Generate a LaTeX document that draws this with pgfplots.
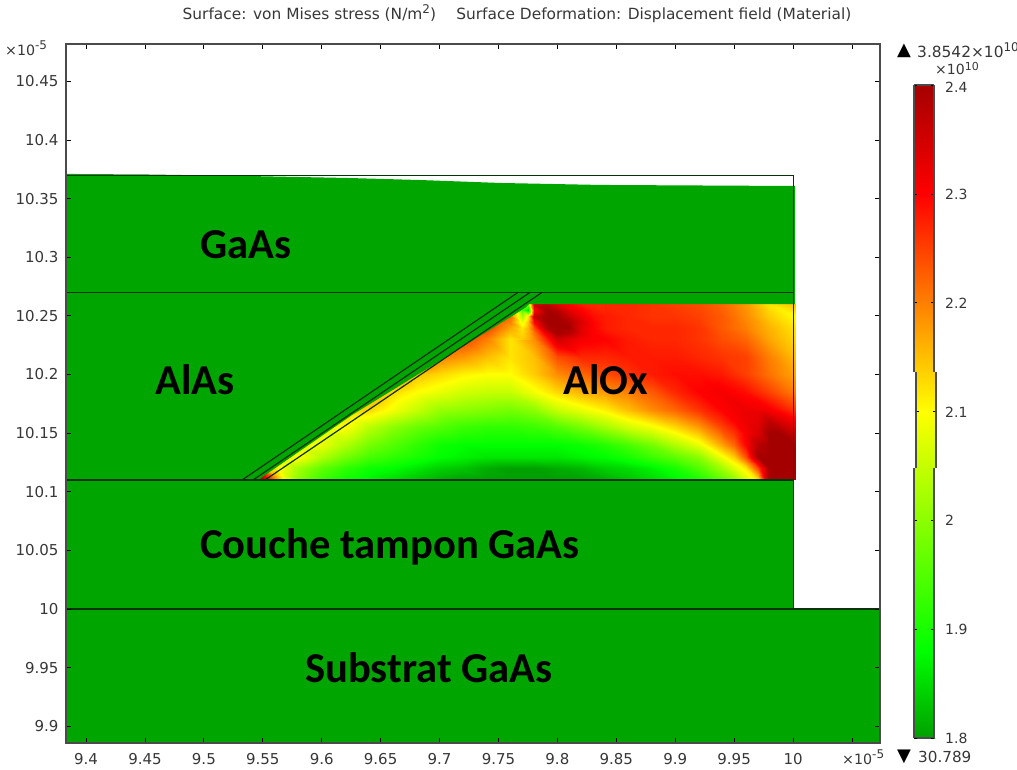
\documentclass[border=0pt]{standalone}
\usepackage{fontspec}
\setmainfont{DejaVu Sans}
\newfontfamily\bigfont[BoldFont=Carlito Bold]{Carlito}
\usepackage{pgfplots}
\pgfplotsset{compat=1.18}
\definecolor{cgreen}{RGB}{0,165,0}
\definecolor{cframe}{RGB}{75,75,75}
\definecolor{ctext}{RGB}{55,55,55}
\definecolor{cline}{RGB}{10,50,10}
\newcommand{\sups}[1]{\raisebox{6pt}{\fontsize{12}{12}\selectfont #1}}
\pgfplotsset{
  colormap={stress}{rgb255(0)=(0,160,0); rgb255(8)=(0,255,0); rgb255(30)=(255,255,0); rgb255(50)=(255,0,0); rgb255(60)=(165,0,0)},
  cbar/.style={
    scale only axis, width=20pt, xmin=0, xmax=1, xtick=\empty, ymin=1.8, ymax=2.4,
    ytick={1.8,1.9,2,2.1,2.2,2.3,2.4}, yticklabels=\empty, tickwidth=3pt, major tick style={black,line width=0.6pt},
    colormap name=stress, point meta min=1.8, point meta max=2.4,
    separate axis lines, x axis line style={draw=none}, y axis line style={draw=cframe,line width=1.2pt}, clip=false, axis on top},
}
\begin{document}
\begin{tikzpicture}[x=1pt,y=1pt]
\path[use as bounding box] (0,0) rectangle (1017pt,769pt);
\begin{axis}[
  at={(66pt,26pt)}, anchor=south west, scale only axis, width=814pt, height=699pt,
  xmin=9.383, xmax=10.0738, ymin=9.8857, ymax=10.4818,
  xtick={9.4,9.45,9.5,9.55,9.6,9.65,9.7,9.75,9.8,9.85,9.9,9.95,10,10.05},
  xticklabels={9.4,9.45,9.5,9.55,9.6,9.65,9.7,9.75,9.8,9.85,9.9,9.95,10,},
  ytick={9.9,9.95,10,10.05,10.1,10.15,10.2,10.25,10.3,10.35,10.4,10.45},
  yticklabels={9.9,9.95,10,10.05,10.1,10.15,10.2,10.25,10.3,10.35,10.4,10.45},
  tick align=inside, tickwidth=5pt, major tick style={black,line width=0.8pt},
  ticklabel style={font=\fontsize{15}{15}\selectfont, text=ctext},
  xticklabel style={yshift=-7pt}, yticklabel style={xshift=-4pt},
  axis line style={cframe,line width=1.3pt}, axis on top,
  colormap name=stress, point meta min=1.8, point meta max=2.4,
]
\addplot[fill=cgreen,draw=none] coordinates {(9.383,9.8857)(10.0738,9.8857)(10.0738,10)(10,10)(10,10.11)(9.383,10.11)} --cycle;
\addplot[surf, shader=interp, mesh/cols=24, point meta=explicit] table[row sep=\\, x=x, y=y, meta=z] {x y z\\
9.54 10.11 2.40\\9.56 10.11 2.20\\9.58 10.11 2.00\\9.60 10.11 1.93\\9.62 10.11 1.89\\9.64 10.11 1.87\\9.66 10.11 1.85\\9.68 10.11 1.83\\9.70 10.11 1.81\\9.72 10.11 1.80\\9.74 10.11 1.80\\9.76 10.11 1.80\\9.78 10.11 1.80\\9.80 10.11 1.80\\9.82 10.11 1.80\\9.84 10.11 1.81\\9.86 10.11 1.83\\9.88 10.11 1.85\\9.90 10.11 1.87\\9.92 10.11 1.90\\9.94 10.11 1.96\\9.96 10.11 2.06\\9.98 10.11 2.40\\10.002 10.11 2.40\\
9.54 10.12 2.15\\9.56 10.12 2.12\\9.58 10.12 2.02\\9.60 10.12 1.96\\9.62 10.12 1.92\\9.64 10.12 1.89\\9.66 10.12 1.88\\9.68 10.12 1.86\\9.70 10.12 1.84\\9.72 10.12 1.83\\9.74 10.12 1.81\\9.76 10.12 1.80\\9.78 10.12 1.80\\9.80 10.12 1.81\\9.82 10.12 1.82\\9.84 10.12 1.84\\9.86 10.12 1.85\\9.88 10.12 1.87\\9.90 10.12 1.90\\9.92 10.12 1.95\\9.94 10.12 2.02\\9.96 10.12 2.12\\9.98 10.12 2.40\\10.002 10.12 2.40\\
9.54 10.13 2.12\\9.56 10.13 2.12\\9.58 10.13 2.10\\9.60 10.13 2.03\\9.62 10.13 1.98\\9.64 10.13 1.94\\9.66 10.13 1.92\\9.68 10.13 1.90\\9.70 10.13 1.88\\9.72 10.13 1.87\\9.74 10.13 1.86\\9.76 10.13 1.86\\9.78 10.13 1.86\\9.80 10.13 1.86\\9.82 10.13 1.87\\9.84 10.13 1.88\\9.86 10.13 1.90\\9.88 10.13 1.93\\9.90 10.13 1.96\\9.92 10.13 2.00\\9.94 10.13 2.09\\9.96 10.13 2.24\\9.98 10.13 2.40\\10.002 10.13 2.40\\
9.54 10.14 2.10\\9.56 10.14 2.10\\9.58 10.14 2.10\\9.60 10.14 2.08\\9.62 10.14 2.03\\9.64 10.14 1.98\\9.66 10.14 1.95\\9.68 10.14 1.92\\9.70 10.14 1.89\\9.72 10.14 1.88\\9.74 10.14 1.88\\9.76 10.14 1.88\\9.78 10.14 1.88\\9.80 10.14 1.88\\9.82 10.14 1.89\\9.84 10.14 1.91\\9.86 10.14 1.94\\9.88 10.14 1.98\\9.90 10.14 2.03\\9.92 10.14 2.08\\9.94 10.14 2.17\\9.96 10.14 2.30\\9.98 10.14 2.40\\10.002 10.14 2.40\\
9.54 10.155 2.10\\9.56 10.155 2.10\\9.58 10.155 2.10\\9.60 10.155 2.10\\9.62 10.155 2.10\\9.64 10.155 2.04\\9.66 10.155 2.00\\9.68 10.155 1.97\\9.70 10.155 1.95\\9.72 10.155 1.93\\9.74 10.155 1.92\\9.76 10.155 1.92\\9.78 10.155 1.93\\9.80 10.155 1.95\\9.82 10.155 1.98\\9.84 10.155 2.02\\9.86 10.155 2.06\\9.88 10.155 2.09\\9.90 10.155 2.13\\9.92 10.155 2.18\\9.94 10.155 2.25\\9.96 10.155 2.31\\9.98 10.155 2.38\\10.002 10.155 2.34\\
9.54 10.17 2.15\\9.56 10.17 2.15\\9.58 10.17 2.15\\9.60 10.17 2.15\\9.62 10.17 2.15\\9.64 10.17 2.13\\9.66 10.17 2.09\\9.68 10.17 2.05\\9.70 10.17 2.01\\9.72 10.17 2.00\\9.74 10.17 1.99\\9.76 10.17 1.98\\9.78 10.17 2.00\\9.80 10.17 2.05\\9.82 10.17 2.08\\9.84 10.17 2.11\\9.86 10.17 2.15\\9.88 10.17 2.19\\9.90 10.17 2.22\\9.92 10.17 2.26\\9.94 10.17 2.30\\9.96 10.17 2.32\\9.98 10.17 2.31\\10.002 10.17 2.26\\
9.54 10.185 2.18\\9.56 10.185 2.18\\9.58 10.185 2.18\\9.60 10.185 2.18\\9.62 10.185 2.18\\9.64 10.185 2.18\\9.66 10.185 2.13\\9.68 10.185 2.10\\9.70 10.185 2.08\\9.72 10.185 2.06\\9.74 10.185 2.05\\9.76 10.185 2.05\\9.78 10.185 2.09\\9.80 10.185 2.13\\9.82 10.185 2.16\\9.84 10.185 2.18\\9.86 10.185 2.20\\9.88 10.185 2.23\\9.90 10.185 2.27\\9.92 10.185 2.30\\9.94 10.185 2.31\\9.96 10.185 2.29\\9.98 10.185 2.25\\10.002 10.185 2.20\\
9.54 10.20 2.20\\9.56 10.20 2.20\\9.58 10.20 2.20\\9.60 10.20 2.20\\9.62 10.20 2.20\\9.64 10.20 2.20\\9.66 10.20 2.20\\9.68 10.20 2.15\\9.70 10.20 2.13\\9.72 10.20 2.11\\9.74 10.20 2.10\\9.76 10.20 2.10\\9.78 10.20 2.14\\9.80 10.20 2.19\\9.82 10.20 2.22\\9.84 10.20 2.24\\9.86 10.20 2.26\\9.88 10.20 2.28\\9.90 10.20 2.29\\9.92 10.20 2.29\\9.94 10.20 2.28\\9.96 10.20 2.25\\9.98 10.20 2.21\\10.002 10.20 2.17\\
9.54 10.215 2.25\\9.56 10.215 2.25\\9.58 10.215 2.25\\9.60 10.215 2.25\\9.62 10.215 2.25\\9.64 10.215 2.25\\9.66 10.215 2.25\\9.68 10.215 2.25\\9.70 10.215 2.20\\9.72 10.215 2.18\\9.74 10.215 2.15\\9.76 10.215 2.12\\9.78 10.215 2.15\\9.80 10.215 2.24\\9.82 10.215 2.27\\9.84 10.215 2.27\\9.86 10.215 2.28\\9.88 10.215 2.28\\9.90 10.215 2.28\\9.92 10.215 2.27\\9.94 10.215 2.26\\9.96 10.215 2.25\\9.98 10.215 2.20\\10.002 10.215 2.15\\
9.54 10.23 2.26\\9.56 10.23 2.26\\9.58 10.23 2.26\\9.60 10.23 2.26\\9.62 10.23 2.26\\9.64 10.23 2.26\\9.66 10.23 2.26\\9.68 10.23 2.26\\9.70 10.23 2.26\\9.72 10.23 2.25\\9.74 10.23 2.20\\9.76 10.23 2.12\\9.78 10.23 2.19\\9.80 10.23 2.35\\9.82 10.23 2.31\\9.84 10.23 2.30\\9.86 10.23 2.28\\9.88 10.23 2.27\\9.90 10.23 2.27\\9.92 10.23 2.26\\9.94 10.23 2.24\\9.96 10.23 2.22\\9.98 10.23 2.17\\10.002 10.23 2.13\\
9.54 10.24 2.28\\9.56 10.24 2.28\\9.58 10.24 2.28\\9.60 10.24 2.28\\9.62 10.24 2.28\\9.64 10.24 2.28\\9.66 10.24 2.28\\9.68 10.24 2.28\\9.70 10.24 2.28\\9.72 10.24 2.28\\9.74 10.24 2.25\\9.76 10.24 2.17\\9.78 10.24 2.24\\9.80 10.24 2.40\\9.82 10.24 2.33\\9.84 10.24 2.28\\9.86 10.24 2.27\\9.88 10.24 2.27\\9.90 10.24 2.27\\9.92 10.24 2.26\\9.94 10.24 2.23\\9.96 10.24 2.20\\9.98 10.24 2.16\\10.002 10.24 2.12\\
9.54 10.25 2.28\\9.56 10.25 2.28\\9.58 10.25 2.28\\9.60 10.25 2.28\\9.62 10.25 2.28\\9.64 10.25 2.28\\9.66 10.25 2.28\\9.68 10.25 2.28\\9.70 10.25 2.28\\9.72 10.25 2.28\\9.74 10.25 2.28\\9.76 10.25 2.22\\9.78 10.25 2.36\\9.80 10.25 2.40\\9.82 10.25 2.32\\9.84 10.25 2.28\\9.86 10.25 2.27\\9.88 10.25 2.26\\9.90 10.25 2.26\\9.92 10.25 2.25\\9.94 10.25 2.23\\9.96 10.25 2.19\\9.98 10.25 2.14\\10.002 10.25 2.10\\
9.54 10.26 2.28\\9.56 10.26 2.28\\9.58 10.26 2.28\\9.60 10.26 2.28\\9.62 10.26 2.28\\9.64 10.26 2.28\\9.66 10.26 2.28\\9.68 10.26 2.28\\9.70 10.26 2.28\\9.72 10.26 2.28\\9.74 10.26 2.28\\9.76 10.26 2.25\\9.78 10.26 2.35\\9.80 10.26 2.33\\9.82 10.26 2.28\\9.84 10.26 2.27\\9.86 10.26 2.27\\9.88 10.26 2.26\\9.90 10.26 2.25\\9.92 10.26 2.24\\9.94 10.26 2.22\\9.96 10.26 2.18\\9.98 10.26 2.12\\10.002 10.26 2.15\\
};
% finer values round the upper hot spot and the tip of the interface
\addplot[surf, shader=interp, mesh/cols=10, point meta=explicit] table[row sep=\\, x=x, y=y, meta=z] {x y z\\
9.76 10.23 2.12\\9.77 10.23 2.14\\9.775 10.23 2.16\\9.78 10.23 2.19\\9.79 10.23 2.27\\9.80 10.23 2.35\\9.81 10.23 2.33\\9.82 10.23 2.31\\9.83 10.23 2.30\\9.84 10.23 2.30\\
9.76 10.235 2.15\\9.77 10.235 2.13\\9.775 10.235 2.16\\9.78 10.235 2.21\\9.79 10.235 2.32\\9.80 10.235 2.40\\9.81 10.235 2.38\\9.82 10.235 2.33\\9.83 10.235 2.30\\9.84 10.235 2.29\\
9.76 10.24 2.17\\9.77 10.24 2.12\\9.775 10.24 2.16\\9.78 10.24 2.24\\9.79 10.24 2.38\\9.80 10.24 2.40\\9.81 10.24 2.40\\9.82 10.24 2.33\\9.83 10.24 2.30\\9.84 10.24 2.28\\
9.76 10.245 2.20\\9.77 10.245 2.08\\9.775 10.245 2.15\\9.78 10.245 2.30\\9.79 10.245 2.40\\9.80 10.245 2.40\\9.81 10.245 2.39\\9.82 10.245 2.34\\9.83 10.245 2.30\\9.84 10.245 2.28\\
9.76 10.25 2.22\\9.77 10.25 2.02\\9.775 10.25 2.12\\9.78 10.25 2.36\\9.79 10.25 2.40\\9.80 10.25 2.40\\9.81 10.25 2.36\\9.82 10.25 2.32\\9.83 10.25 2.29\\9.84 10.25 2.28\\
9.76 10.255 2.23\\9.77 10.255 1.95\\9.775 10.255 1.85\\9.78 10.255 2.30\\9.79 10.255 2.40\\9.80 10.255 2.38\\9.81 10.255 2.33\\9.82 10.255 2.30\\9.83 10.255 2.28\\9.84 10.255 2.27\\
9.76 10.26 2.25\\9.77 10.26 2.10\\9.775 10.26 2.00\\9.78 10.26 2.35\\9.79 10.26 2.37\\9.80 10.26 2.33\\9.81 10.26 2.30\\9.82 10.26 2.28\\9.83 10.26 2.27\\9.84 10.26 2.27\\
};
% finer values round the lower hot spot
\addplot[surf, shader=interp, mesh/cols=7, point meta=explicit] table[row sep=\\, x=x, y=y, meta=z] {x y z\\
9.94 10.11 1.96\\9.95 10.11 2.00\\9.96 10.11 2.06\\9.97 10.11 2.12\\9.98 10.11 2.40\\9.99 10.11 2.40\\10.002 10.11 2.40\\
9.94 10.12 2.02\\9.95 10.12 2.07\\9.96 10.12 2.12\\9.97 10.12 2.25\\9.98 10.12 2.40\\9.99 10.12 2.40\\10.002 10.12 2.40\\
9.94 10.13 2.09\\9.95 10.13 2.14\\9.96 10.13 2.24\\9.97 10.13 2.40\\9.98 10.13 2.40\\9.99 10.13 2.40\\10.002 10.13 2.40\\
9.94 10.14 2.17\\9.95 10.14 2.22\\9.96 10.14 2.30\\9.97 10.14 2.38\\9.98 10.14 2.40\\9.99 10.14 2.40\\10.002 10.14 2.40\\
9.94 10.15 2.23\\9.95 10.15 2.26\\9.96 10.15 2.31\\9.97 10.15 2.34\\9.98 10.15 2.40\\9.99 10.15 2.40\\10.002 10.15 2.36\\
9.94 10.16 2.27\\9.95 10.16 2.30\\9.96 10.16 2.32\\9.97 10.16 2.33\\9.98 10.16 2.37\\9.99 10.16 2.34\\10.002 10.16 2.31\\
9.94 10.17 2.30\\9.95 10.17 2.31\\9.96 10.17 2.32\\9.97 10.17 2.32\\9.98 10.17 2.31\\9.99 10.17 2.29\\10.002 10.17 2.26\\
};
% lower tip of the interface
\addplot[surf, shader=interp, mesh/cols=4, point meta=explicit] table[row sep=\\, x=x, y=y, meta=z] {x y z\\
9.54 10.11 2.40\\9.55 10.11 2.40\\9.56 10.11 2.20\\9.57 10.11 2.08\\
9.54 10.115 2.30\\9.55 10.115 2.30\\9.56 10.115 2.15\\9.57 10.115 2.06\\
9.54 10.12 2.15\\9.55 10.12 2.13\\9.56 10.12 2.12\\9.57 10.12 2.07\\
};
% AlAs and GaAs layers over the left of the field
\addplot[fill=cgreen,draw=none] coordinates {(9.383,10.11)(9.546,10.11)(9.6257,10.1654)(9.692,10.2064)(9.7726,10.2567)(9.776,10.26)(10.0017,10.26)(10.0017,10.3607)(9.8362,10.3616)(9.7513,10.3633)(9.6835,10.3658)(9.624,10.3675)(9.5392,10.3692)(9.4543,10.3705)(9.383,10.371)} --cycle;
% outlines
\addplot[cline,line width=1pt] coordinates {(9.383,10.37)(10,10.37)(10,10)};
\addplot[cline,line width=1.2pt] coordinates {(9.383,10.27)(10,10.27)};
\addplot[cline,line width=1.6pt] coordinates {(9.383,10.11)(10,10.11)};
\addplot[cline,line width=1.2pt] coordinates {(9.383,10)(10.0738,10)};
\addplot[cline,line width=1.2pt] coordinates {(9.5324,10.11)(9.7666,10.27)};
\addplot[cline,line width=1.2pt] coordinates {(9.5417,10.11)(9.7768,10.27)};
\addplot[cline,line width=1.2pt] coordinates {(9.5519,10.11)(9.787,10.27)};
\end{axis}
% colour scale: three pieces
\begin{axis}[cbar, at={(914pt,397pt)}, anchor=south west, height=287pt, ymin=2.1363, ymax=2.4]
\addplot[surf, shader=interp, mesh/cols=2, point meta=y] table[row sep=\\] {x y\\0 2.1363\\1 2.1363\\0 2.3\\1 2.3\\0 2.4\\1 2.4\\};
\addplot[cframe,line width=1.2pt] coordinates {(0,2.4)(1,2.4)};
\end{axis}
\begin{axis}[cbar, at={(916pt,301pt)}, anchor=south west, height=96pt, ymin=2.0481, ymax=2.1363]
\addplot[surf, shader=interp, mesh/cols=2, point meta=y] table[row sep=\\] {x y\\0 2.0481\\1 2.0481\\0 2.1\\1 2.1\\0 2.1363\\1 2.1363\\};
\end{axis}
\begin{axis}[cbar, at={(914pt,31pt)}, anchor=south west, height=270pt, ymin=1.8, ymax=2.0481]
\addplot[surf, shader=interp, mesh/cols=2, point meta=y] table[row sep=\\] {x y\\0 1.8\\1 1.8\\0 1.88\\1 1.88\\0 2.0481\\1 2.0481\\};
\addplot[cframe,line width=1.2pt] coordinates {(0,1.8)(1,1.8)};
\end{axis}
% texts
\def\T#1#2#3#4#5{\node[anchor=#3,inner sep=0pt,text=#4,font=\fontsize{#5}{#5}\selectfont] at (#1pt,769pt-#2pt)}
\T{517}{14}{center}{ctext}{15.4} {Surface: von Mises stress (N/m\sups{2})\hspace{1em} Surface Deformation: Displacement field (Material)};
\T{5}{48}{west}{ctext}{14.2} {×10\sups{-5}};
\T{842}{757}{west}{ctext}{14.2} {×10\sups{-5}};
\T{897}{51}{west}{black}{18} {▲};
\T{917}{50}{west}{ctext}{15.4} {3.8542×10\sups{10}};
\T{935}{69}{west}{ctext}{14} {×10\raisebox{4pt}{\fontsize{11}{11}\selectfont 10}};
\T{897}{757}{west}{black}{18} {▼};
\T{918}{757}{west}{ctext}{15.2} {30.789};
\T{945}{87}{west}{ctext}{14} {2.4};
\T{945}{194}{west}{ctext}{14} {2.3};
\T{945}{303}{west}{ctext}{14} {2.2};
\T{945}{412}{west}{ctext}{14} {2.1};
\T{945}{520}{west}{ctext}{14} {2};
\T{945}{629}{west}{ctext}{14} {1.9};
\T{945}{738}{west}{ctext}{14} {1.8};
\T{200}{245}{west}{black}{42.6} {\bigfont\bfseries GaAs};
\T{155}{380}{west}{black}{42.6} {\bigfont\bfseries AlAs};
\T{563}{380}{west}{black}{42.6} {\bigfont\bfseries AlOx};
\T{200}{547}{west}{black}{42.6} {\bigfont\bfseries Couche tampon GaAs};
\T{305}{668}{west}{black}{42.6} {\bigfont\bfseries Substrat GaAs};
\end{tikzpicture}
\end{document}
